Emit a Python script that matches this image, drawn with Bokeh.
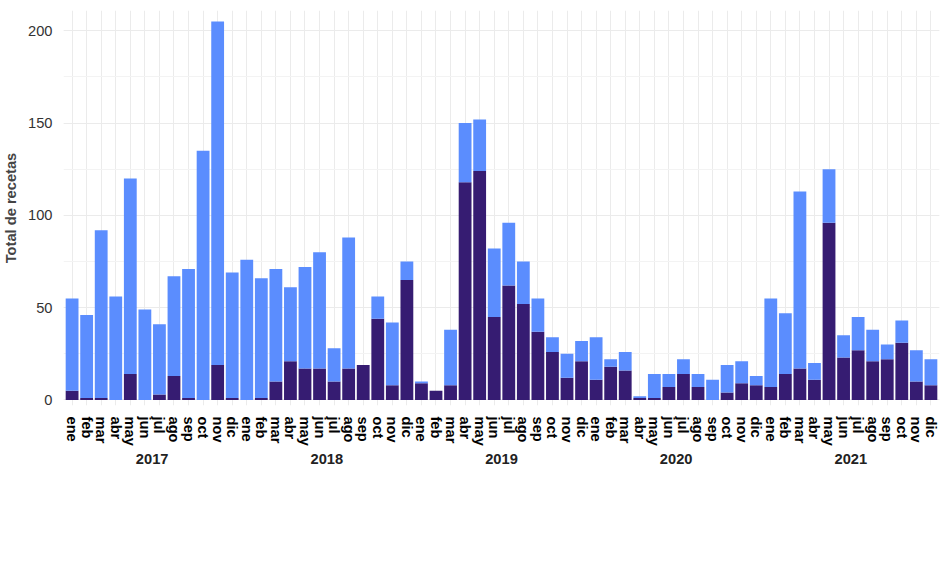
from bokeh.plotting import figure
from bokeh.models import FactorRange, ColumnDataSource, Legend, SingleIntervalTicker, Range1d
from bokeh.embed import file_html
from bokeh.resources import INLINE

years = ["2017", "2018", "2019", "2020", "2021"]
months = ["ene", "feb", "mar", "abr", "may", "jun", "jul", "ago", "sep", "oct", "nov", "dic"]

parciales = [5, 1, 1, 0, 14, 0, 3, 13, 1, 0, 19, 1,
             0, 1, 10, 21, 17, 17, 10, 17, 19, 44, 8, 65,
             9, 5, 8, 118, 124, 45, 62, 52, 37, 26, 12, 21,
             11, 18, 16, 1, 1, 7, 14, 7, 0, 4, 9, 8,
             7, 14, 17, 11, 96, 23, 27, 21, 22, 31, 10, 8]
totales = [55, 46, 92, 56, 120, 49, 41, 67, 71, 135, 205, 69,
           76, 66, 71, 61, 72, 80, 28, 88, 19, 56, 42, 75,
           10, 5, 38, 150, 152, 82, 96, 75, 55, 34, 25, 32,
           34, 22, 26, 2, 14, 14, 22, 14, 11, 19, 21, 13,
           55, 47, 113, 20, 125, 35, 45, 38, 30, 43, 27, 22]
negadas = [t - p for t, p in zip(totales, parciales)]

factors = [(y, m) for y in years for m in months]
src = ColumnDataSource(dict(x=factors, Parciales=parciales, Negadas=negadas))

p = figure(x_range=FactorRange(*factors, factor_padding=0, group_padding=0, range_padding=0.003),
           y_range=Range1d(-3, 211), frame_width=876, frame_height=395,
           min_border_top=10, min_border_right=8, min_border_left=10, min_border_bottom=5,
           output_backend="svg", toolbar_location=None)
r = p.vbar_stack(["Parciales", "Negadas"], x="x", width=0.88, source=src,
                 color=["#361c72", "#5b8dfe"], line_color=None)

p.outline_line_color = None
p.background_fill_color = "white"
p.xgrid.grid_line_color = "#ebebeb"
p.ygrid.grid_line_color = "#ebebeb"
p.ygrid.minor_grid_line_color = "#f3f3f3"
p.yaxis.ticker = SingleIntervalTicker(interval=50, num_minor_ticks=2)
p.yaxis.axis_label = "Total de recetas"
p.yaxis.axis_label_text_font_style = "bold"
p.yaxis.axis_label_text_font_size = "11pt"
p.yaxis.axis_label_text_font = "Liberation Sans"
p.yaxis.axis_label_standoff = 6
p.yaxis.major_label_text_font = "Liberation Sans"
p.yaxis.major_label_text_font_size = "11pt"
p.yaxis.major_label_text_color = "#333333"
for ax in (p.xaxis[0], p.yaxis[0]):
    ax.axis_line_color = None
    ax.major_tick_line_color = None
    ax.minor_tick_line_color = None
p.xaxis.major_label_orientation = "vertical"
p.xaxis.major_label_text_font = "Liberation Sans"
p.xaxis.major_label_text_font_style = "bold"
p.xaxis.major_label_text_font_size = "11pt"
p.xaxis.major_label_text_color = "black"
p.xaxis.group_text_font = "Liberation Sans"
p.xaxis.group_text_font_style = "bold"
p.xaxis.group_text_font_size = "11pt"
p.xaxis.group_text_color = "#222222"
p.xaxis.separator_line_color = None

legend = Legend(items=[("Parciales", [r[0]]), ("Negadas", [r[1]])],
                orientation="horizontal", location="center",
                label_text_font="Liberation Sans", label_text_font_size="11pt",
                border_line_color=None, glyph_width=22, glyph_height=22,
                spacing=12)
p.add_layout(legend, "below")

open("out.html", "w").write(file_html(p, INLINE))
